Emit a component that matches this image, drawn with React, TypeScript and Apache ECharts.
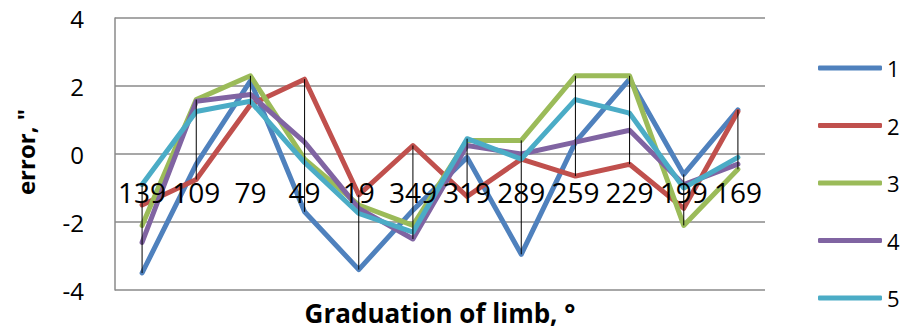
import React, { useEffect, useRef } from "react";
import * as echarts from "echarts";

// Graduation of limb, degrees
const categories = ["139", "109", "79", "49", "19", "349", "319", "289", "259", "229", "199", "169"];

// Error in arc seconds for each measurement set
const set1 = [-3.5, -0.3, 2.15, -1.7, -3.4, -1.65, -0.1, -2.95, 0.35, 2.2, -0.6, 1.3];
const set2 = [-1.5, -0.75, 1.45, 2.2, -1.2, 0.25, -1.25, -0.15, -0.65, -0.3, -1.6, 1.25];
const set3 = [-2.1, 1.6, 2.3, -0.15, -1.5, -2.1, 0.4, 0.4, 2.3, 2.3, -2.1, -0.45];
const set4 = [-2.6, 1.55, 1.75, 0.35, -1.6, -2.5, 0.25, 0.0, 0.35, 0.7, -0.9, -0.3];
const set5 = [-0.9, 1.25, 1.55, -0.25, -1.75, -2.3, 0.45, -0.15, 1.6, 1.2, -1.0, -0.1];

const seriesNames = ["1", "2", "3", "4", "5"];
const colors = ["#4F81BD", "#C0504D", "#9BBB59", "#8064A2", "#4BACC6"];
const yTicks = { min: -4, max: 4, interval: 2 };

const FONT = "'Open Sans', 'Noto Sans', sans-serif";

export default function App() {
  const ref = useRef<HTMLDivElement>(null);

  useEffect(() => {
    if (!ref.current) return;
    const chart = echarts.init(ref.current, null, { renderer: "svg" });
    const sets = [set1, set2, set3, set4, set5];

    // high-low range per category
    const ranges = categories.map((_, i) => {
      const vals = sets.map((s) => s[i]);
      return [i, Math.min(...vals), Math.max(...vals)];
    });

    const lineSeries = sets.map((data, k) => ({
      name: seriesNames[k],
      type: "line",
      data,
      symbol: "none",
      color: colors[k],
      lineStyle: { width: 5, color: colors[k], cap: "round", join: "round" },
      z: 2 + k,
    }));

    chart.setOption({
      animation: false,
      textStyle: { fontFamily: FONT },
      grid: { left: 115, right: 138, top: 18, bottom: 41 },
      xAxis: {
        type: "category",
        data: categories,
        boundaryGap: true,
        // category labels sit under the zero line, drawn above the series
        offset: -136,
        z: 20,
        axisLine: { show: false, onZero: false },
        axisTick: { show: false },
        axisLabel: {
          interval: 0,
          hideOverlap: false,
          color: "#000",
          fontSize: 28,
          fontFamily: FONT,
          margin: 24,
        },
        splitLine: { show: false },
      },
      yAxis: {
        type: "value",
        min: yTicks.min,
        max: yTicks.max,
        interval: yTicks.interval,
        axisLine: { show: true, lineStyle: { color: "#8a8a8a", width: 1.5 } },
        axisTick: { show: false },
        axisLabel: { color: "#000", fontSize: 24, fontFamily: FONT, margin: 31 },
        splitLine: { lineStyle: { color: "#8a8a8a", width: 1.5 } },
      },
      legend: {
        data: seriesNames,
        orient: "vertical",
        left: 813,
        top: 49,
        icon: "roundRect",
        itemWidth: 64,
        itemHeight: 5,
        itemGap: 29.5,
        textStyle: { color: "#000", fontSize: 22, lineHeight: 28, fontFamily: FONT, padding: [0, 0, 0, 0] },
      },
      graphic: [
        {
          type: "text",
          x: 440,
          y: 313,
          style: {
            text: "Graduation of limb, °",
            font: `bold 26px ${FONT}`,
            fill: "#000",
            textAlign: "center",
            textVerticalAlign: "middle",
          },
        },
        {
          type: "text",
          x: 25,
          y: 152,
          rotation: Math.PI / 2,
          style: {
            text: 'error, "',
            font: `bold 24px ${FONT}`,
            fill: "#000",
            textAlign: "center",
            textVerticalAlign: "middle",
          },
        },
      ],
      series: [
        ...lineSeries,
        {
          type: "custom",
          name: "range",
          data: ranges,
          encode: { x: 0, y: [1, 2] },
          z: 10,
          renderItem: (params: any, api: any) => {
            const i = api.value(0);
            const lo = api.coord([i, api.value(1)]);
            const hi = api.coord([i, api.value(2)]);
            return {
              type: "line",
              shape: { x1: lo[0], y1: lo[1], x2: hi[0], y2: hi[1] },
              style: { stroke: "#000", lineWidth: 1 },
            };
          },
        },
      ],
    });

    return () => chart.dispose();
  }, []);

  return (
    <div
      ref={ref}
      style={{ position: "fixed", left: 0, top: 0, width: 903, height: 331, background: "#fff" }}
    />
  );
}
